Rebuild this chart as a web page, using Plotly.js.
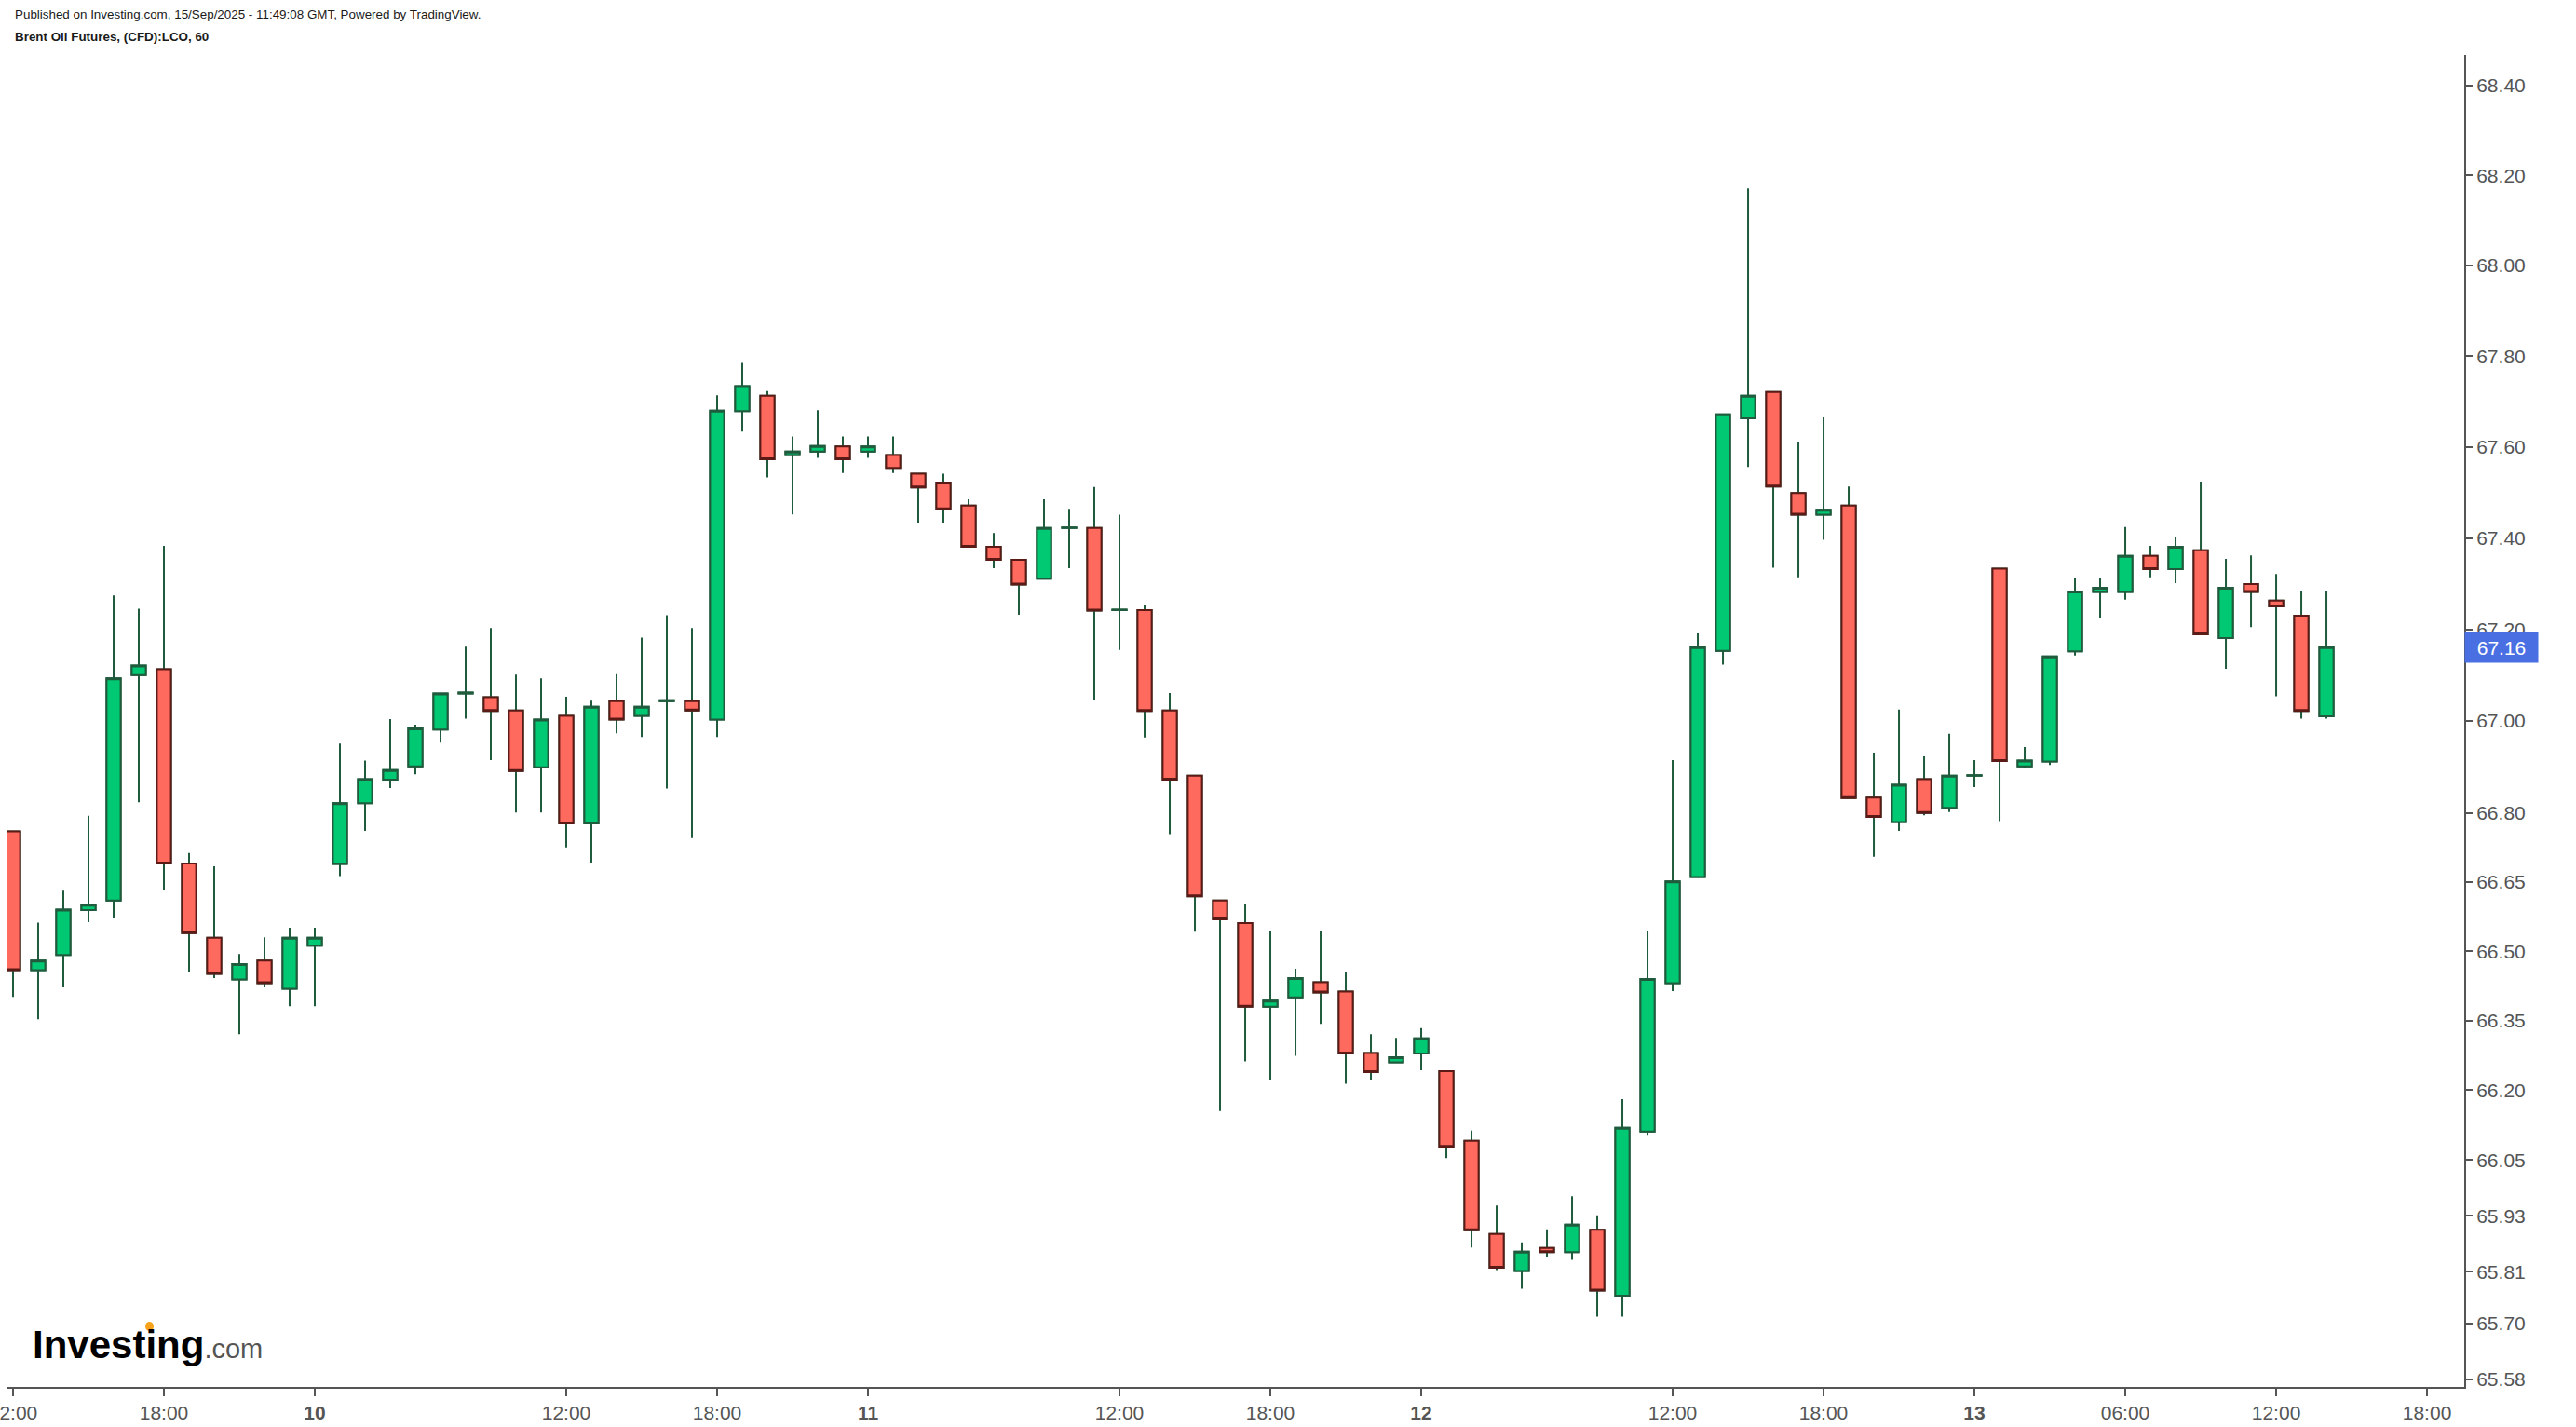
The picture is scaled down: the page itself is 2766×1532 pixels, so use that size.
<!DOCTYPE html>
<html>
<head>
<meta charset="utf-8">
<script src="https://cdn.plot.ly/plotly-3.0.1.min.js"></script>
<style>
  html, body { margin: 0; padding: 0; background: #ffffff; }
  #chart { width: 2766px; height: 1532px; }
</style>
</head>
<body>
<div id="chart"></div>
<script>
// ---- Data: Brent Oil Futures (CFD):LCO, 60-minute candles ----
const open = [
  66.760, 66.459, 66.492, 66.589, 66.610, 67.100, 67.113, 66.690, 66.529, 66.439,
  66.480, 66.419, 66.512, 66.689, 66.821, 66.872, 66.901, 66.981, 67.060, 67.052,
  67.023, 66.899, 67.011, 66.777, 67.043, 67.011, 67.043, 67.043, 67.003, 67.679,
  67.713, 67.582, 67.590, 67.601, 67.590, 67.582, 67.541, 67.520, 67.471, 67.381,
  67.352, 67.311, 67.422, 67.422, 67.242, 67.242, 67.023, 66.881, 66.610, 66.561,
  66.380, 66.400, 66.433, 66.413, 66.280, 66.260, 66.279, 66.241, 66.091, 65.891,
  65.812, 65.861, 65.852, 65.900, 65.759, 66.111, 66.431, 66.661, 67.153, 67.663,
  67.721, 67.499, 67.451, 67.471, 66.833, 66.780, 66.873, 66.811, 66.881, 67.333,
  66.901, 66.912, 67.152, 67.282, 67.282, 67.361, 67.332, 67.373, 67.181, 67.299,
  67.263, 67.230, 67.010
];
const high = [
  66.760, 66.562, 66.631, 66.794, 67.274, 67.245, 67.383, 66.713, 66.684, 66.494,
  66.530, 66.551, 66.551, 66.951, 66.914, 67.004, 66.992, 67.061, 67.162, 67.203,
  67.101, 67.093, 67.053, 67.044, 67.102, 67.182, 67.231, 67.203, 67.714, 67.785,
  67.723, 67.623, 67.681, 67.623, 67.623, 67.623, 67.541, 67.541, 67.485, 67.411,
  67.352, 67.485, 67.464, 67.512, 67.451, 67.252, 67.061, 66.881, 66.610, 66.603,
  66.543, 66.462, 66.543, 66.454, 66.321, 66.313, 66.334, 66.241, 66.113, 65.952,
  65.873, 65.901, 65.972, 65.931, 66.181, 66.543, 66.915, 67.191, 67.672, 68.171,
  67.721, 67.612, 67.665, 67.513, 66.931, 67.025, 66.923, 66.972, 66.915, 67.333,
  66.943, 67.141, 67.313, 67.313, 67.424, 67.383, 67.403, 67.522, 67.354, 67.362,
  67.321, 67.285, 67.285
];
const low = [
  66.401, 66.353, 66.422, 66.563, 66.571, 66.823, 66.632, 66.454, 66.442, 66.321,
  66.422, 66.381, 66.381, 66.663, 66.761, 66.854, 66.884, 66.953, 67.005, 66.915,
  66.801, 66.801, 66.725, 66.691, 66.973, 66.965, 66.853, 66.745, 66.965, 67.634,
  67.533, 67.452, 67.576, 67.543, 67.576, 67.543, 67.432, 67.432, 67.381, 67.334,
  67.232, 67.311, 67.334, 67.046, 67.155, 66.964, 66.754, 66.542, 66.155, 66.262,
  66.223, 66.274, 66.343, 66.214, 66.222, 66.260, 66.243, 66.054, 65.862, 65.814,
  65.774, 65.842, 65.836, 65.714, 65.714, 66.102, 66.414, 66.661, 67.123, 67.556,
  67.335, 67.314, 67.396, 66.832, 66.705, 66.761, 66.795, 66.802, 66.856, 66.782,
  66.897, 66.904, 67.143, 67.224, 67.265, 67.314, 67.301, 67.189, 67.114, 67.205,
  67.054, 67.005, 67.005
];
const close = [
  66.459, 66.480, 66.590, 66.601, 67.093, 67.121, 66.690, 66.539, 66.451, 66.472,
  66.431, 66.529, 66.529, 66.821, 66.873, 66.893, 66.984, 67.060, 67.062, 67.022,
  66.891, 67.003, 66.777, 67.031, 67.003, 67.031, 67.045, 67.023, 67.680, 67.734,
  67.573, 67.590, 67.602, 67.573, 67.601, 67.552, 67.511, 67.463, 67.381, 67.352,
  67.298, 67.422, 67.423, 67.241, 67.243, 67.022, 66.872, 66.619, 66.569, 66.380,
  66.393, 66.442, 66.411, 66.279, 66.239, 66.271, 66.312, 66.078, 65.899, 65.819,
  65.853, 65.852, 65.911, 65.770, 66.119, 66.440, 66.651, 67.161, 67.672, 67.713,
  67.513, 67.451, 67.462, 66.832, 66.791, 66.861, 66.800, 66.881, 66.882, 66.913,
  66.914, 67.141, 67.283, 67.291, 67.361, 67.332, 67.381, 67.189, 67.291, 67.282,
  67.250, 67.022, 67.161
];
const lastPrice = 67.16;

// x-axis labels (bar index positions) and texts
const xTickPos  = [0, 6, 12, 22, 28, 34, 44, 50, 56, 66, 72, 78, 84, 90, 96];
const xTickText = ["12:00", "18:00", "<b>10</b>", "12:00", "18:00", "<b>11</b>", "12:00", "18:00",
                   "<b>12</b>", "12:00", "18:00", "<b>13</b>", "06:00", "12:00", "18:00"];
// y-axis ticks
const yTickVals = [68.40, 68.20, 68.00, 67.80, 67.60, 67.40, 67.20, 67.00, 66.80, 66.65,
                   66.50, 66.35, 66.20, 66.05, 65.93, 65.81, 65.70, 65.58];
const yTickText = yTickVals.map(v => v.toFixed(2));

// ---- Derived ----
const xIdx = open.map((_, i) => i);
const bodyHigh = open.map((o, i) => Math.max(o, close[i]));
const bodyLow  = open.map((o, i) => Math.min(o, close[i]));

const W = 2766, H = 1532;
const M = { l: 8, r: 120, t: 59, b: 43 };
const PW = W - M.l - M.r, PH = H - M.t - M.b;
const px = X => (X - M.l) / PW;            // pixel -> paper x
const py = Y => (H - M.b - Y) / PH;        // pixel -> paper y

const upFill = '#00c873', upLine = '#1f5b3c';
const dnFill = '#ff6a5f', dnLine = '#5c1a17';
const wick = '#1f5b3c';

const wicks = {
  type: 'candlestick', x: xIdx, open: open, high: high, low: low, close: close,
  increasing: { line: { color: wick, width: 2 }, fillcolor: upFill },
  decreasing: { line: { color: wick, width: 2 }, fillcolor: dnFill },
  whiskerwidth: 0, hoverinfo: 'skip', showlegend: false
};
const bodies = {
  type: 'candlestick', x: xIdx, open: open, high: bodyHigh, low: bodyLow, close: close,
  increasing: { line: { color: upLine, width: 2 }, fillcolor: upFill },
  decreasing: { line: { color: dnLine, width: 2 }, fillcolor: dnFill },
  whiskerwidth: 0, hoverinfo: 'skip', showlegend: false
};

const axisFont = { family: 'Liberation Sans, Arial, sans-serif', size: 21, color: '#555555' };
const headFamily = 'Liberation Sans Narrow, Arial Narrow, Liberation Sans, Arial, sans-serif';

const layout = {
  width: W, height: H,
  margin: M,
  paper_bgcolor: '#ffffff', plot_bgcolor: '#ffffff',
  showlegend: false,
  boxmode: 'overlay', boxgap: 0.25, boxgroupgap: 0.25,
  xaxis: {
    type: 'linear', range: [-0.222, 97.48], fixedrange: true,
    rangeslider: { visible: false },
    showgrid: false, zeroline: false,
    showline: true, linecolor: '#555555', linewidth: 2,
    ticks: 'outside', ticklen: 8, tickwidth: 2, tickcolor: '#555555',
    tickmode: 'array', tickvals: xTickPos, ticktext: xTickText,
    tickfont: axisFont, ticklabeloverflow: 'allow'
  },
  yaxis: {
    type: 'log', side: 'right',
    range: [Math.log10(65.564), Math.log10(68.4675)], fixedrange: true,
    showgrid: false, zeroline: false,
    showline: true, linecolor: '#555555', linewidth: 2,
    ticks: 'outside', ticklen: 7, tickwidth: 2, tickcolor: '#555555',
    tickmode: 'array', tickvals: yTickVals, ticktext: yTickText,
    tickfont: axisFont
  },
  shapes: [
    { type: 'line', xref: 'paper', yref: 'y', x0: 0, x1: 1,
      y0: Math.log10(lastPrice), y1: Math.log10(lastPrice),
      line: { color: '#93a7ee', width: 1.5, dash: 'dot' }, layer: 'below' },
    // orange dot of the Investing.com logo
    { type: 'circle', xref: 'paper', yref: 'paper',
      x0: px(156), x1: px(165), y0: py(1429), y1: py(1419),
      fillcolor: '#f7a21b', line: { width: 0 }, layer: 'above' }
  ],
  annotations: [
    { xref: 'paper', yref: 'y', x: 1, y: Math.log10(lastPrice), xanchor: 'left', yanchor: 'middle',
      text: lastPrice.toFixed(2), showarrow: false,
      font: { family: 'Liberation Sans, Arial, sans-serif', size: 21, color: '#ffffff' },
      bgcolor: '#4a6fe3', width: 70, height: 24, borderpad: 4, align: 'center' },
    { xref: 'paper', yref: 'paper', x: px(14), y: py(16), xanchor: 'left', yanchor: 'middle',
      text: 'Published on Investing.com, 15/Sep/2025 - 11:49:08 GMT, Powered by TradingView.',
      showarrow: false, font: { family: headFamily, size: 13.4, color: '#1a1a1a' } },
    { xref: 'paper', yref: 'paper', x: px(14), y: py(40), xanchor: 'left', yanchor: 'middle',
      text: '<b>Brent Oil Futures, (CFD):LCO, 60</b>',
      showarrow: false, font: { family: headFamily, size: 13.4, color: '#1a1a1a' } },
    { xref: 'paper', yref: 'paper', x: px(33), y: py(1443), xanchor: 'left', yanchor: 'middle',
      text: '<b>Investing</b><span style="font-size:29px;color:#555555">.com</span>',
      showarrow: false, font: { family: 'Liberation Sans, Arial, sans-serif', size: 42, color: '#000000' } }
  ]
};

Plotly.newPlot('chart', [wicks, bodies], layout, { staticPlot: true, displayModeBar: false });
</script>
</body>
</html>
